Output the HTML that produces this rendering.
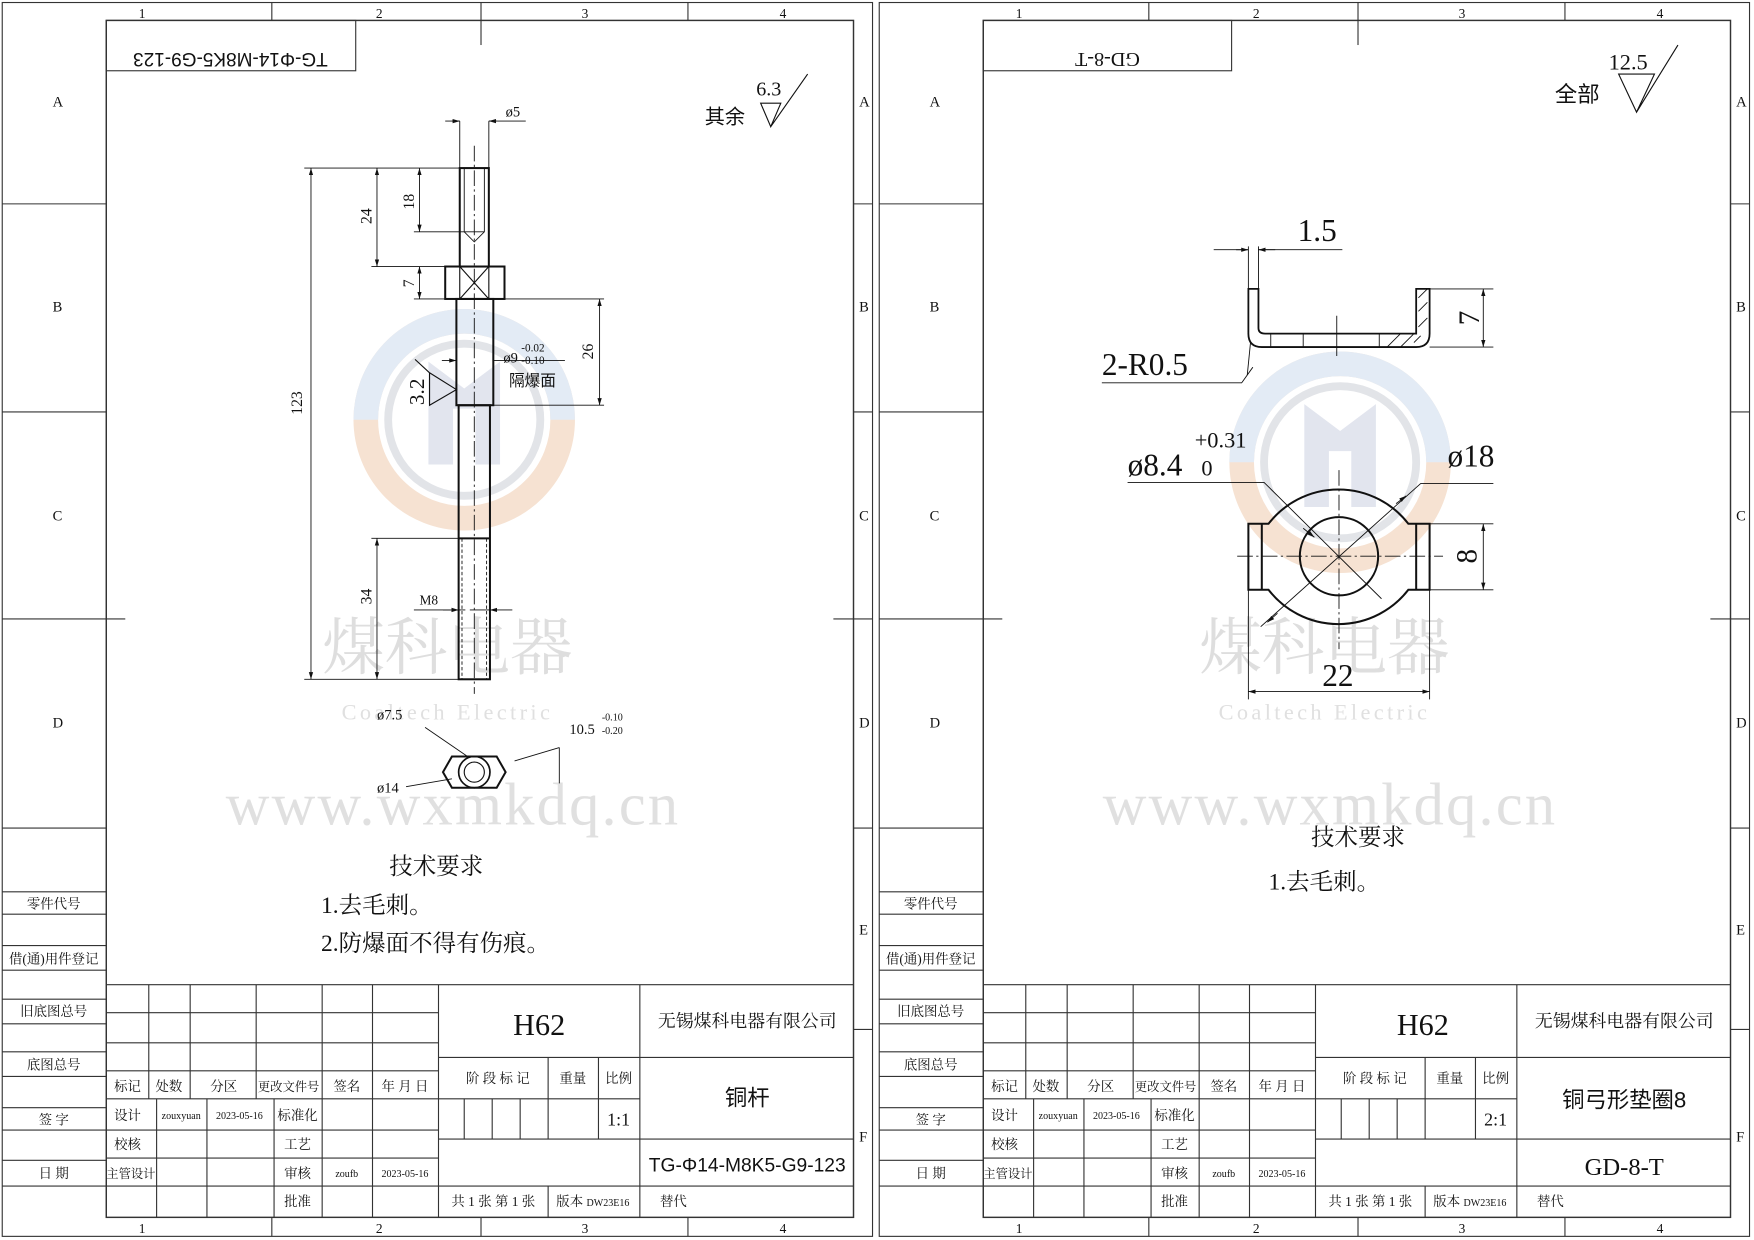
<!DOCTYPE html>
<html><head><meta charset="utf-8"><style>
html,body{margin:0;padding:0;background:#fff}
svg{display:block}
text{font-family:"Liberation Serif","Noto Serif CJK SC","Noto Sans CJK SC",serif;fill:#111}
.s{font-family:"Liberation Sans","Noto Sans CJK SC",sans-serif}
</style></head><body>
<svg width="1754" height="1240" viewBox="0 0 1568 1108" xmlns="http://www.w3.org/2000/svg">
<defs>
<marker id="a" viewBox="0 0 10 10" refX="10" refY="5" markerWidth="8" markerHeight="8" orient="auto-start-reverse"><path d="M0,2 L10,5 L0,8z" fill="#111"/></marker>
<g id="frame" fill="none" stroke="#333" stroke-width="1">
<rect x="2" y="2" width="778" height="1103"/>
<rect x="95" y="18" width="668" height="1070" stroke-width="1.3"/>
<line x1="243" y1="2" x2="243" y2="18"/><line x1="430" y1="2" x2="430" y2="40"/><line x1="615" y1="2" x2="615" y2="18"/>
<line x1="243" y1="1088" x2="243" y2="1105"/><line x1="430" y1="1088" x2="430" y2="1105"/><line x1="615" y1="1088" x2="615" y2="1105"/>
<line x1="2" y1="182" x2="95" y2="182"/><line x1="2" y1="368" x2="95" y2="368"/><line x1="2" y1="553" x2="112" y2="553"/><line x1="2" y1="740" x2="95" y2="740"/>
<line x1="763" y1="182" x2="780" y2="182"/><line x1="763" y1="368" x2="780" y2="368"/><line x1="745" y1="553" x2="780" y2="553"/><line x1="763" y1="740" x2="780" y2="740"/><line x1="763" y1="920" x2="780" y2="920"/>
<path d="M2 797H95M2 817H95M2 845H95M2 867H95M2 893H95M2 915H95M2 940H95M2 962H95M2 990H95M2 1010H95M2 1037H95M2 1060H95"/>
<path d="M95 880H763M95 905H392M95 932H392M95 957H392M95 982H392M95 1010H392M95 1035H392M95 1060H763M392 945H763M392 982H572M392 1018H763"/>
<path d="M133 880V982M170 880V982M229 880V982M140 982V1088M185 982V1088M245 982V1088M288 880V1088M333 880V1088M392 880V1088M572 880V1088M415 982V1018M440 982V1018M465 982V1018M490 945V1018M535 945V1018M490 1060V1088"/>
</g>
<g id="ftxt" font-size="13">
<text x="124" y="16" font-size="12">1</text><text x="336" y="16" font-size="12">2</text><text x="520" y="16" font-size="12">3</text><text x="697" y="16" font-size="12">4</text>
<text x="124" y="1102" font-size="12">1</text><text x="336" y="1102" font-size="12">2</text><text x="520" y="1102" font-size="12">3</text><text x="697" y="1102" font-size="12">4</text>
<g font-size="13"><text x="47" y="95">A</text><text x="47" y="278">B</text><text x="47" y="465">C</text><text x="47" y="650">D</text>
<text x="768" y="95">A</text><text x="768" y="278">B</text><text x="768" y="465">C</text><text x="768" y="650">D</text><text x="768" y="835">E</text><text x="768" y="1020">F</text></g>
<g font-size="12" text-anchor="middle" class="s">
<text x="48" y="812">零件代号</text><text x="48" y="861">借(通)用件登记</text><text x="48" y="908">旧底图总号</text><text x="48" y="956">底图总号</text><text x="48" y="1005">签 字</text><text x="48" y="1053">日 期</text>
<text x="114" y="975">标记</text><text x="151" y="975">处数</text><text x="200" y="975">分区</text><text x="258" y="975" font-size="11">更改文件号</text><text x="310" y="975">签名</text><text x="362" y="975">年 月 日</text>
<text x="114" y="1001">设计</text><text x="162" y="1000" font-size="9">zouxyuan</text><text x="214" y="1000" font-size="9">2023-05-16</text><text x="266" y="1001">标准化</text>
<text x="114" y="1027">校核</text><text x="266" y="1027">工艺</text>
<text x="117" y="1053" font-size="11">主管设计</text><text x="266" y="1053">审核</text><text x="310" y="1052" font-size="9">zoufb</text><text x="362" y="1052" font-size="9">2023-05-16</text>
<text x="266" y="1078">批准</text>
<text x="445" y="968">阶 段 标 记</text><text x="512" y="968">重量</text><text x="553" y="968">比例</text>
<text x="441" y="1078">共 1 张  第 1 张</text><text x="530" y="1078">版本 <tspan font-size="9">DW23E16</tspan></text><text x="590" y="1078" text-anchor="start">替代</text>
<text x="668" y="918" font-size="16">无锡煤科电器有限公司</text>
</g>
</g>
<g id="wm">
<circle cx="0" cy="0" r="88" fill="none" stroke="#f6e2d2" stroke-width="22"/>
<path d="M-88,0 A88,88 0 0 1 88,0" fill="none" stroke="#e3ebf5" stroke-width="22"/>
<circle cx="0" cy="0" r="68" fill="none" stroke="#e2e4e8" stroke-width="7"/>
<path d="M-32,-52 L0,-28 L32,-52 V40 H10 V-10 H-10 V40 H-32z" fill="#e2e5ee"/>
</g>
</defs>

<!-- LEFT SHEET -->
<use href="#wm" x="415" y="375"/>
<use href="#frame"/><use href="#ftxt"/>
<rect x="95" y="18" width="223" height="45" fill="none" stroke="#333"/>
<text x="206" y="33" font-size="17" text-anchor="middle" class="s" transform="rotate(180 206 40)">TG-Φ14-M8K5-G9-123</text>
<text x="482" y="925" font-size="27" text-anchor="middle">H62</text>
<text x="668" y="988" font-size="20" text-anchor="middle" class="s">铜杆</text>
<text x="553" y="1006" font-size="16" text-anchor="middle">1:1</text>
<text x="668" y="1047" font-size="17" text-anchor="middle" class="s" textLength="176" lengthAdjust="spacingAndGlyphs">TG-Φ14-M8K5-G9-123</text>

<g class="s" text-anchor="middle">
<text x="400" y="598" font-size="56" style="fill:#dedede">煤科电器</text>
<text x="400" y="643" font-size="20" style="fill:#e0e0e0;letter-spacing:3px">Coaltech Electric</text>
</g>
<text x="405" y="737" font-size="54" text-anchor="middle" style="fill:#e0e0e0;letter-spacing:2px">www.wxmkdq.cn</text>

<!-- shaft -->
<g fill="none" stroke="#111" stroke-width="1.8">
<rect x="411" y="150" width="26" height="88"/>
<rect x="398" y="238" width="53" height="29"/>
<path d="M411 238V267M437 238V267M411 238L437 267M437 238L411 267" stroke-width="1"/>
<rect x="408" y="267" width="33" height="95"/>
<rect x="410" y="362" width="28" height="245"/>
<line x1="410" y1="481" x2="438" y2="481"/>
</g>
<g fill="none" stroke="#111" stroke-width="0.8">
<path d="M415 150V207L424 216L433 207V150M415 207H433"/>
<path d="M424 130V620" stroke-dasharray="14 3 2 3"/>
<path d="M413 481V607M435 481V607" stroke-dasharray="3 2"/>
<path d="M272 150H411M272 607H410M332 238H398M370 207H415M370 267H398M441 267H540M441 362H540M332 481H410M411 108V150M437 108V150"/>
<line x1="278" y1="150" x2="278" y2="607" marker-start="url(#a)" marker-end="url(#a)"/>
<line x1="337" y1="150" x2="337" y2="238" marker-start="url(#a)" marker-end="url(#a)"/>
<line x1="375" y1="150" x2="375" y2="207" marker-start="url(#a)" marker-end="url(#a)"/>
<line x1="375" y1="238" x2="375" y2="267" marker-start="url(#a)" marker-end="url(#a)"/>
<line x1="536" y1="267" x2="536" y2="362" marker-start="url(#a)" marker-end="url(#a)"/>
<line x1="337" y1="481" x2="337" y2="607" marker-start="url(#a)" marker-end="url(#a)"/>
<path d="M398 108H411M437 108H470"/><path d="M404 108H411" marker-end="url(#a)"/><path d="M444 108H437" marker-end="url(#a)"/>
<path d="M441 322H505"/><path d="M395 322H408" marker-end="url(#a)"/>
<path d="M416 545H370M444 545H420"/><path d="M396 545H410" marker-end="url(#a)"/><path d="M458 545H438" marker-end="url(#a)"/>
<path d="M384 333L408 348L384 362z M384 333L371 321" stroke-width="1"/>
</g>
<g font-size="14">
<text x="270" y="360" transform="rotate(-90 270 360)" text-anchor="middle">123</text>
<text x="332" y="193" transform="rotate(-90 332 193)" text-anchor="middle">24</text>
<text x="370" y="180" transform="rotate(-90 370 180)" text-anchor="middle">18</text>
<text x="370" y="253" transform="rotate(-90 370 253)" text-anchor="middle">7</text>
<text x="530" y="314" transform="rotate(-90 530 314)" text-anchor="middle">26</text>
<text x="332" y="533" transform="rotate(-90 332 533)" text-anchor="middle">34</text>
<text x="452" y="104" font-size="13">ø5</text>
<text x="450" y="324" font-size="13">ø9</text><text x="466" y="314" font-size="10">-0.02</text><text x="466" y="325" font-size="10">-0.10</text>
<text x="455" y="345" font-size="14" class="s">隔爆面</text>
<text x="375" y="540" font-size="12">M8</text>
<text x="379" y="350" font-size="19" transform="rotate(-90 379 350)" text-anchor="middle">3.2</text>
<text x="630" y="110" font-size="18" class="s">其余</text>
<text x="676" y="85" font-size="18">6.3</text>
</g>
<path d="M680 92L698 92L689 113z M689 113 L722 66" fill="none" stroke="#111"/>
<g fill="none" stroke="#111">
<path d="M404 676H444L452 690L444 704H404L396 690z" stroke-width="1.8"/>
<circle cx="424" cy="690" r="14" stroke-width="1.5"/><circle cx="424" cy="690" r="9"/>
<path d="M380 650L418 676M363 703L404 696M460 680L500 668M500 668V700" stroke-width="0.8"/>
</g>
<text x="337" y="643" font-size="13">ø7.5</text>
<text x="337" y="708" font-size="13">ø14</text>
<text x="509" y="656" font-size="13">10.5</text><text x="538" y="644" font-size="9">-0.10</text><text x="538" y="656" font-size="9">-0.20</text>
<g class="s" font-size="21">
<text x="348" y="781">技术要求</text>
<text x="287" y="816">1.去毛刺。</text>
<text x="287" y="850">2.防爆面不得有伤痕。</text>
</g>

<!-- RIGHT SHEET -->
<g transform="translate(784 0)">
<use href="#wm" x="414" y="413"/>
<use href="#frame"/><use href="#ftxt"/>
<rect x="95" y="18" width="222" height="45" fill="none" stroke="#333"/>
<text x="206" y="33" font-size="18" text-anchor="middle" transform="rotate(180 206 40)">GD-8-T</text>
<text x="488" y="925" font-size="27" text-anchor="middle">H62</text>
<text x="668" y="990" font-size="20" text-anchor="middle" class="s">铜弓形垫圈8</text>
<text x="553" y="1006" font-size="16" text-anchor="middle">2:1</text>
<text x="668" y="1050" font-size="22" text-anchor="middle">GD-8-T</text>
<g class="s" text-anchor="middle">
<text x="400" y="598" font-size="56" style="fill:#dedede">煤科电器</text>
<text x="400" y="643" font-size="20" style="fill:#e0e0e0;letter-spacing:3px">Coaltech Electric</text>
</g>
<text x="405" y="737" font-size="54" text-anchor="middle" style="fill:#e0e0e0;letter-spacing:2px">www.wxmkdq.cn</text>
<g class="s" font-size="21"><text x="388" y="755">技术要求</text><text x="350" y="795">1.去毛刺。</text></g>
<text x="606" y="91" font-size="20" class="s">全部</text><text x="654" y="62" font-size="20">12.5</text>
<path d="M663 66L695 66L679 100z M679 100L716 40" fill="none" stroke="#111"/>
</g>
<g fill="none" stroke="#111" stroke-width="1.6">
<path d="M1116 258H1125V293Q1125 298 1131 298H1266V258H1278V298Q1278 310 1266 310H1128Q1116 310 1116 298z"/>
</g>
<g fill="none" stroke="#111" stroke-width="0.8">
<path d="M1136 298V310M1165 298V310M1233 298V310M1195 282V318"/>
<path d="M1240 310L1252 298M1252 310L1264 298M1264 306L1270 300M1268 292L1276 284M1268 278L1276 270M1268 266L1276 258"/>
<path d="M1116 220V258M1125 220V258M1085 223H1116M1125 223H1200"/>
<path d="M1105 223H1116" marker-end="url(#a)"/><path d="M1140 223H1125" marker-end="url(#a)"/>
<path d="M1278 258H1335M1278 310H1335"/>
<line x1="1326" y1="258" x2="1326" y2="310" marker-start="url(#a)" marker-end="url(#a)"/>
<path d="M985 342H1110L1120 328"/><path d="M1115 335L1118 305"/>
</g>
<text x="1160" y="215" font-size="28">1.5</text>
<text x="985" y="335" font-size="28">2-R0.5</text>
<text x="1322" y="284" font-size="26" transform="rotate(-90 1322 284)" text-anchor="middle">7</text>
<g fill="none" stroke="#111" stroke-width="1.8">
<path d="M1116 468H1134A79 79 0 0 1 1259 468H1278V527H1259A79 79 0 0 1 1134 527H1116z"/>
<path d="M1128 468V527M1266 468V527"/>
<circle cx="1197" cy="497" r="35"/>
</g>
<g fill="none" stroke="#111" stroke-width="0.8">
<path d="M1106 497H1290" stroke-dasharray="14 3 2 3"/>
<path d="M1197 420V580" stroke-dasharray="14 3 2 3"/>
<path d="M1008 431H1130L1235 535"/><path d="M1165 472L1175 480" marker-end="url(#a)"/>
<path d="M1127 560L1270 432H1335"/><path d="M1142 548L1133 556" marker-end="url(#a)"/><path d="M1248 450L1257 443" marker-end="url(#a)"/>
<path d="M1278 468H1335M1278 527H1335"/>
<line x1="1326" y1="468" x2="1326" y2="527" marker-start="url(#a)" marker-end="url(#a)"/>
<path d="M1116 527V625M1278 527V625"/>
<line x1="1116" y1="618" x2="1278" y2="618" marker-start="url(#a)" marker-end="url(#a)"/>
</g>
<text x="1008" y="425" font-size="28">ø8.4</text><text x="1068" y="400" font-size="20">+0.31</text><text x="1074" y="425" font-size="20">0</text>
<text x="1294" y="417" font-size="28">ø18</text>
<text x="1320" y="497" font-size="26" transform="rotate(-90 1320 497)" text-anchor="middle">8</text>
<text x="1196" y="613" font-size="28" text-anchor="middle">22</text>
</svg>
</body></html>
